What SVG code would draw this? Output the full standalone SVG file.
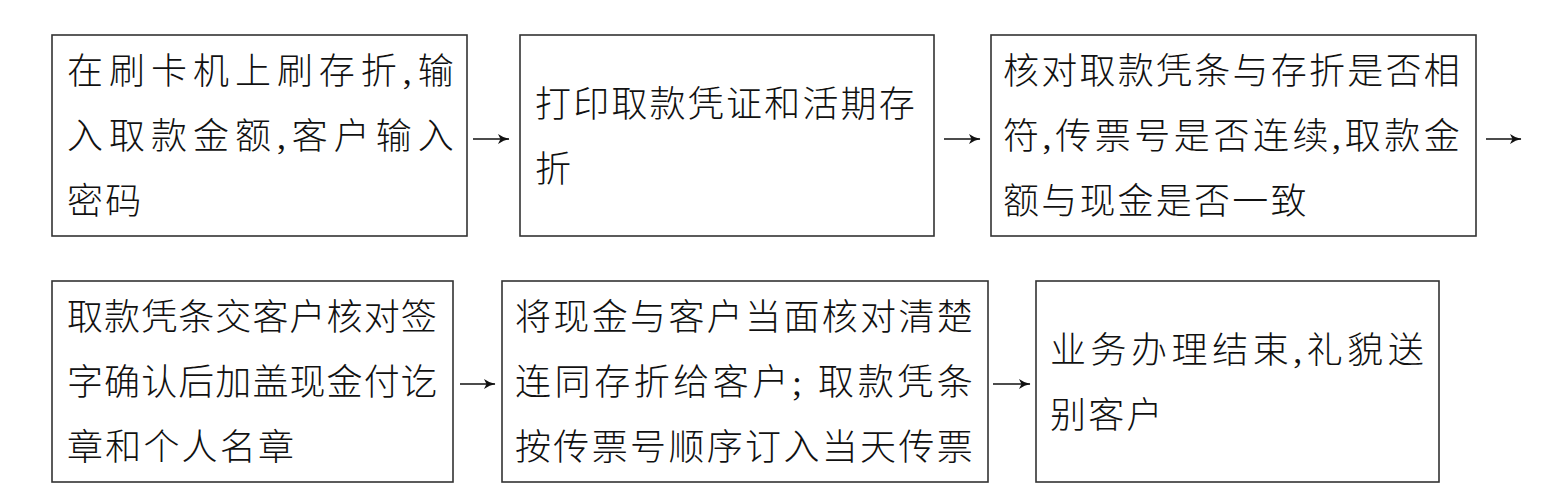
<svg xmlns="http://www.w3.org/2000/svg" width="1568" height="491" viewBox="0 0 1568 491">
<style>
.box{fill:#fff;stroke:#333;stroke-width:1.6}
.t{font-family:"Liberation Serif","Noto Sans CJK SC",serif;font-size:36px;font-weight:300;fill:#111;letter-spacing:2.2px}
.conn{stroke:#111;stroke-width:1.6;fill:none}
</style>
<defs>
<marker id="ah" viewBox="0 0 12 12" refX="11.5" refY="6" markerWidth="12" markerHeight="12" markerUnits="userSpaceOnUse" orient="auto">
<path d="M0.5,1 Q6,5 12,6 Q6,7 0.5,11 L3,6 Z" fill="#111"/>
</marker>
</defs>
<rect width="1568" height="491" fill="#fff"/>
<g id="n1">
<rect class="box" x="52" y="35" width="415" height="201"/>
<text class="t" x="67" y="84" textLength="389" lengthAdjust="spacing">在刷卡机上刷存折,输</text>
<text class="t" x="67" y="149" textLength="389" lengthAdjust="spacing">入取款金额,客户输入</text>
<text class="t" x="67" y="214">密码</text>
</g>
<g id="n2">
<rect class="box" x="520" y="35" width="414" height="201"/>
<text class="t" x="535" y="117">打印取款凭证和活期存</text>
<text class="t" x="535" y="182">折</text>
</g>
<g id="n3">
<rect class="box" x="991" y="35" width="485" height="201"/>
<text class="t" x="1003" y="84" textLength="459" lengthAdjust="spacing">核对取款凭条与存折是否相</text>
<text class="t" x="1003" y="149" textLength="459" lengthAdjust="spacing">符,传票号是否连续,取款金</text>
<text class="t" x="1003" y="214">额与现金是否一致</text>
</g>
<g id="n4">
<rect class="box" x="52" y="281" width="401" height="201"/>
<text class="t" x="67" y="330" textLength="372" lengthAdjust="spacing">取款凭条交客户核对签</text>
<text class="t" x="67" y="395" textLength="372" lengthAdjust="spacing">字确认后加盖现金付讫</text>
<text class="t" x="67" y="460">章和个人名章</text>
</g>
<g id="n5">
<rect class="box" x="502" y="281" width="486" height="201"/>
<text class="t" x="515" y="330" textLength="460" lengthAdjust="spacing">将现金与客户当面核对清楚</text>
<text class="t" x="515" y="395" textLength="460" lengthAdjust="spacing">连同存折给客户; 取款凭条</text>
<text class="t" x="515" y="460" textLength="460" lengthAdjust="spacing">按传票号顺序订入当天传票</text>
</g>
<g id="n6">
<rect class="box" x="1036" y="281" width="403" height="201"/>
<text class="t" x="1050" y="363" textLength="376" lengthAdjust="spacing">业务办理结束,礼貌送</text>
<text class="t" x="1050" y="428">别客户</text>
</g>
<g id="connectors">
<line class="conn" x1="473" y1="139" x2="509" y2="139" marker-end="url(#ah)"/>
<line class="conn" x1="944" y1="139" x2="980" y2="139" marker-end="url(#ah)"/>
<line class="conn" x1="1486" y1="139" x2="1521" y2="139" marker-end="url(#ah)"/>
<line class="conn" x1="460" y1="384" x2="495" y2="384" marker-end="url(#ah)"/>
<line class="conn" x1="993" y1="384" x2="1030" y2="384" marker-end="url(#ah)"/>
</g>
</svg>
